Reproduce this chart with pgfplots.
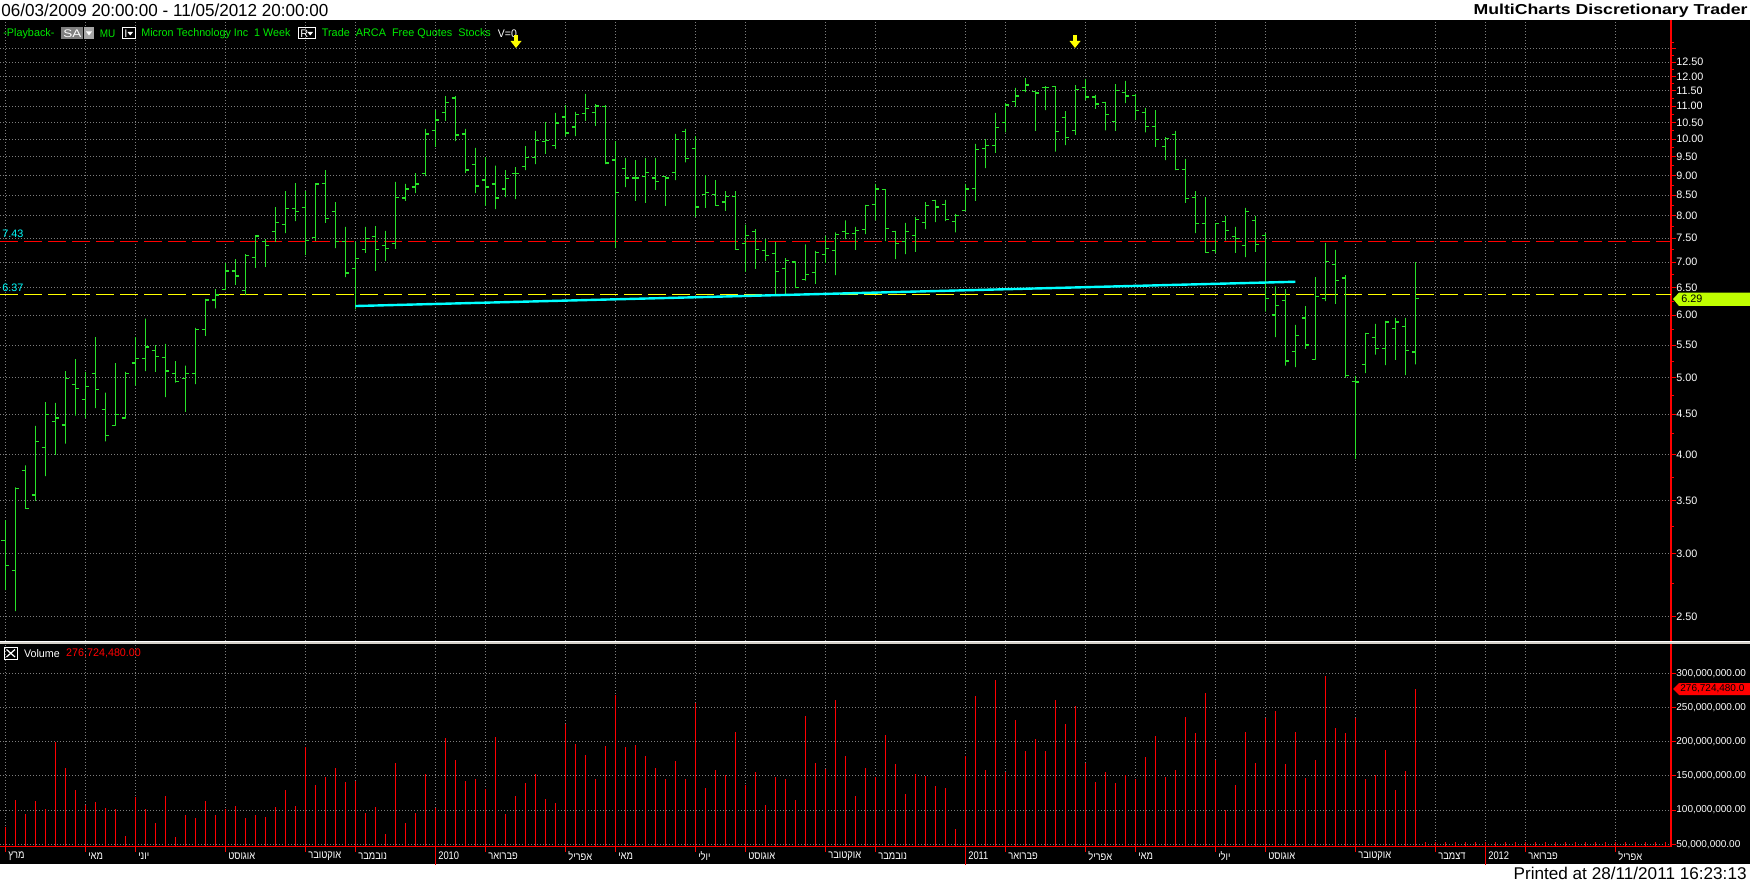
\documentclass[border=0pt]{standalone}
\usepackage{pgfplots}
\pgfplotsset{compat=1.18}
\usepackage{pgfplotstable}
\usepackage{graphicx}
\usepackage{fontspec}
\setmainfont{Liberation Sans}
\newfontfamily\hebfont[Script=Hebrew]{Liberation Sans}
\TeXXeTstate=1
\newcommand\heb[1]{{\hebfont\beginR#1\endR}}
\newdimen\px \px=0.5pt
\newcommand\fit[2]{\resizebox{#1\px}{\height}{#2}}

\definecolor{bargreen}{RGB}{40,225,40}
\definecolor{tbgreen}{RGB}{0,235,0}
\definecolor{gridgray}{RGB}{125,125,125}
\definecolor{vred}{RGB}{255,0,0}
\definecolor{lcyan}{RGB}{0,255,255}
\definecolor{lyellow}{RGB}{255,255,0}
\definecolor{sepgray}{RGB}{212,208,200}

\pgfplotsset{
  ohlc/.style={bargreen, line width=0.6pt, line join=bevel, line cap=butt, no marks},
  dotgrid/.style={gridgray, line width=0.5pt, dash pattern=on 0.5pt off 1pt},
}

% weekly bars: index, open, high, low, close, volume (millions)
\pgfplotstableread{
i o h l c v
0 3.12 3.31 2.70 2.90 75.4
1 2.86 3.64 2.54 3.63 114.8
2 3.82 3.88 3.42 3.42 94.4
3 3.56 4.35 3.50 4.16 113.4
4 4.09 4.66 3.76 4.50 101.7
5 4.41 4.65 4.00 4.45 199.1
6 4.36 5.10 4.13 4.99 161.6
7 4.91 5.28 4.48 4.85 129.4
8 4.70 5.09 4.45 4.88 107.5
9 5.07 5.63 4.58 4.84 111.9
10 4.56 4.79 4.16 4.23 103.1
11 4.35 5.22 4.35 4.50 101.7
12 4.45 5.09 4.45 5.07 62.2
13 5.22 5.63 4.89 5.29 119.2
14 5.29 5.94 5.10 5.47 101.7
15 5.42 5.50 5.09 5.32 81.7
16 5.31 5.52 4.73 5.10 120.7
17 5.07 5.25 4.93 4.95 60.7
18 4.99 5.18 4.53 5.07 92.9
19 5.07 5.78 4.91 5.75 88.5
20 5.76 6.29 5.65 6.27 113.4
21 6.27 6.47 6.12 6.36 92.9
22 6.46 6.98 6.45 6.82 101.7
23 6.82 7.06 6.55 6.72 106.1
24 6.45 7.16 6.36 7.14 88.5
25 7.10 7.57 6.88 7.55 92.9
26 7.43 7.48 6.90 7.35 90.0
27 7.65 8.21 7.42 7.85 104.6
28 7.81 8.60 7.61 8.18 129.4
29 8.18 8.80 7.88 8.10 106.1
30 8.20 8.60 7.14 7.45 192.3
31 7.52 8.80 7.44 8.78 136.8
32 8.80 9.14 7.84 7.95 148.4
33 8.10 8.33 7.29 7.43 161.6
34 7.43 7.75 6.70 6.78 141.1
35 6.87 7.42 6.10 7.07 142.6
36 7.26 7.75 7.19 7.50 95.8
37 7.54 7.77 6.82 7.26 104.6
38 7.35 7.66 7.02 7.28 65.1
39 7.39 8.83 7.27 8.44 168.9
40 8.43 8.78 8.36 8.65 81.2
41 8.70 9.06 8.55 8.78 95.8
42 9.04 10.30 8.98 10.15 152.8
43 10.26 10.88 9.78 10.57 103.1
44 10.81 11.33 10.54 11.11 205.5
45 11.27 11.33 9.94 10.12 173.3
46 10.15 10.30 9.06 9.14 142.6
47 9.28 9.75 8.55 8.73 145.5
48 8.88 9.49 8.24 8.70 130.9
49 8.78 9.26 8.16 8.43 206.9
50 8.65 9.14 8.45 8.91 94.4
51 9.05 9.22 8.40 9.05 120.7
52 9.24 9.80 9.14 9.47 139.7
53 9.49 10.24 9.30 9.97 152.8
54 9.92 10.51 9.58 9.95 116.3
55 9.82 10.79 9.72 10.48 110.4
56 10.66 11.04 10.09 10.18 225.9
57 10.36 10.82 10.09 10.73 196.7
58 10.76 11.40 10.54 10.92 180.6
59 10.81 11.07 10.39 11.01 145.5
60 10.98 11.04 9.30 9.33 193.1
61 9.41 9.94 7.29 8.56 268.1
62 9.19 9.47 8.70 8.93 191.7
63 8.93 9.41 8.36 8.93 194.6
64 8.98 9.47 8.31 9.08 178.4
65 8.93 9.47 8.63 8.85 162.3
66 8.98 8.98 8.24 8.93 146.1
67 9.08 10.15 8.88 9.99 171.1
68 10.22 10.30 9.35 9.45 146.1
69 9.74 10.09 7.98 8.21 256.4
70 8.52 9.01 8.19 8.57 132.8
71 8.52 8.88 8.24 8.25 159.3
72 8.33 8.60 8.12 8.47 151.9
73 8.47 8.60 7.25 7.26 213.7
74 7.39 7.80 6.80 7.56 137.3
75 7.65 7.70 6.86 7.26 156.4
76 7.24 7.48 7.02 7.13 107.8
77 7.18 7.42 6.36 6.81 149.0
78 6.87 7.08 6.38 7.03 146.1
79 7.00 7.00 6.49 6.50 115.2
80 6.65 7.37 6.63 6.75 237.3
81 6.79 7.23 6.57 7.20 169.6
82 7.16 7.55 6.98 7.28 160.8
83 7.24 7.63 6.74 7.58 260.8
84 7.65 7.90 7.48 7.60 178.4
85 7.60 7.75 7.25 7.67 121.1
86 7.70 8.26 7.59 8.25 162.3
87 8.28 8.78 7.90 8.65 149.0
88 8.63 8.65 7.44 7.72 209.3
89 7.65 7.66 7.06 7.39 166.7
90 7.43 7.84 7.16 7.65 124.0
91 7.56 7.98 7.21 7.92 153.4
92 7.85 8.33 7.70 8.25 150.5
93 8.37 8.38 7.86 8.21 135.8
94 8.28 8.38 7.88 7.92 132.8
95 7.88 8.05 7.63 8.02 72.5
96 8.13 8.78 8.12 8.65 178.4
97 8.67 9.86 8.36 9.70 266.7
98 9.74 10.00 9.19 9.82 159.3
99 9.82 10.79 9.61 10.35 290.2
100 10.49 11.10 10.20 11.04 156.4
101 11.16 11.60 10.98 11.33 231.4
102 11.52 11.94 11.46 11.70 185.8
103 11.47 11.47 10.24 11.43 203.4
104 11.62 11.66 10.88 11.62 185.8
105 11.66 11.66 9.64 10.23 260.8
106 10.65 10.85 9.83 10.05 225.5
107 10.25 11.70 10.12 11.56 252.0
108 11.62 11.91 11.20 11.30 169.6
109 11.30 11.37 10.92 11.07 141.7
110 11.11 11.14 10.26 10.75 156.4
111 10.52 11.73 10.24 11.52 139.7
112 11.46 11.84 11.10 11.33 151.9
113 11.36 11.40 10.57 10.87 146.1
114 10.81 10.95 10.20 10.38 177.0
115 10.38 10.88 9.78 9.99 207.8
116 9.79 10.06 9.41 10.02 149.0
117 10.14 10.24 9.14 9.16 159.3
118 9.16 9.44 8.31 8.42 235.8
119 8.44 8.60 7.61 7.83 212.3
120 7.83 8.45 7.19 7.20 271.1
121 7.24 7.83 7.19 7.83 172.6
122 7.88 8.00 7.45 7.67 100.5
123 7.54 7.75 7.19 7.50 137.3
124 7.35 8.19 7.10 8.10 213.7
125 7.90 8.00 7.21 7.37 169.6
126 7.56 7.61 6.06 6.30 234.3
127 6.00 6.52 5.63 6.17 244.6
128 6.26 6.47 5.18 5.25 168.1
129 5.40 5.83 5.16 5.66 213.7
130 5.95 6.16 5.44 5.50 147.5
131 5.28 6.70 5.28 6.34 174.0
132 6.30 7.40 6.25 7.01 296.1
133 6.95 7.25 6.20 6.64 219.6
134 6.68 6.74 5.00 5.04 212.3
135 4.95 5.03 3.95 4.94 234.3
136 5.20 5.70 5.07 5.69 146.1
137 5.62 5.85 5.35 5.45 151.9
138 5.45 5.90 5.19 5.88 187.3
139 5.77 5.95 5.27 5.88 129.9
140 5.81 5.95 5.04 5.42 157.8
141 5.39 7.00 5.20 6.29 277.0
}\bars

\begin{document}
\begin{tikzpicture}[x=0.5pt,y=0.5pt]
\useasboundingbox (0,0) rectangle (1750,884);
\fill[white] (0,0) rectangle (1750,884);
\fill[black] (0,20) rectangle (1750,863.5);

% ---------- price panel ----------
\begin{axis}[
  at={(0pt,121.5pt)}, anchor=south west,
  scale only axis, width=835.5pt, height=310.5pt,
  xmin=-0.53, xmax=166.57,
  ymode=log, ymin=2.3297, ymax=14.131,
  axis x line=bottom, axis y line=right,
  x axis line style={draw=none},
  y axis line style={vred, line width=0.6pt, -},
  xtick={0,8,13,22,30,35,43,48,56,61,69,74,82,87,96,100,108,113,121,126,135,143,148,152,161},
  xticklabels={}, xtick style={draw=none},
  xmajorgrids, ymajorgrids,
  major grid style={dotgrid},
  ytick={2.5,3,3.5,4,4.5,5,5.5,6,6.5,7,7.5,8,8.5,9,9.5,10,10.5,11,11.5,12,12.5,13},
  yticklabels={2.50,3.00,3.50,4.00,4.50,5.00,5.50,6.00,6.50,7.00,7.50,8.00,8.50,9.00,9.50,10.00,10.50,11.00,11.50,12.00,12.50,{}},
  minor ytick={2.75,3.25,3.75,4.25,4.75,5.25,5.75,6.25,6.75,7.25,7.75,8.25,8.75,9.25,9.75,10.25,10.75,11.25,11.75,12.25,12.75,13.25},
  tick align=outside, major tick length=2.5pt, minor tick length=1.5pt,
  ytick style={vred, line width=0.5pt},
  yticklabel style={text=white, font=\fontsize{5.4}{6}\selectfont, inner sep=0pt, anchor=west},
]
\addplot[vred, line width=0.6pt, dash pattern=on 9pt off 3pt] coordinates {(-0.53,7.43) (166.57,7.43)};
\addplot[lyellow, line width=0.6pt, dash pattern=on 9pt off 3pt] coordinates {(-0.53,6.37) (166.57,6.37)};
\pgfplotsinvokeforeach{0,...,141}{
  \pgfplotstablegetelem{#1}{o}\of\bars \let\vo\pgfplotsretval
  \pgfplotstablegetelem{#1}{h}\of\bars \let\vh\pgfplotsretval
  \pgfplotstablegetelem{#1}{l}\of\bars \let\vl\pgfplotsretval
  \pgfplotstablegetelem{#1}{c}\of\bars \let\vc\pgfplotsretval
  \pgfmathsetmacro\xa{#1-0.38}
  \pgfmathsetmacro\xb{#1+0.38}
  \edef\temp{\noexpand\addplot[ohlc] coordinates {(\xa,\vo) (#1,\vo) (#1,\vl) (#1,\vh) (#1,\vc) (\xb,\vc)};}
  \temp
}
\addplot[lcyan, line width=1.2pt] coordinates {(35,6.16) (129,6.61)};
\node[anchor=west, inner sep=0pt, text=lcyan, font=\fontsize{5.4}{6}\selectfont] at (axis cs:-0.33,7.43) [yshift=3.6pt] {7.43};
\node[anchor=west, inner sep=0pt, text=lcyan, font=\fontsize{5.4}{6}\selectfont] at (axis cs:-0.33,6.37) [yshift=3.4pt] {6.37};
\end{axis}

% separator between panels
\fill[sepgray] (0,240.5) rectangle (1750,243.5);
\fill[white] (0,242.3) rectangle (1750,243.5);

% ---------- volume panel ----------
\begin{axis}[
  at={(0pt,18.75pt)}, anchor=south west,
  scale only axis, width=835.5pt, height=101.5pt,
  xmin=-0.53, xmax=166.57, ymin=46.8, ymax=343.6,
  axis x line=bottom, axis y line=right,
  x axis line style={vred, line width=0.9pt, -},
  y axis line style={vred, line width=0.6pt, -},
  xtick={0,8,13,22,30,35,43,48,56,61,69,74,82,87,96,100,108,113,121,126,135,143,148,152,161},
  xticklabels={},
  xmajorgrids, ymajorgrids,
  major grid style={dotgrid},
  ytick={50,100,150,200,250,300},
  yticklabels={{50,000,000.00},{100,000,000.00},{150,000,000.00},{200,000,000.00},{250,000,000.00},{300,000,000.00}},
  tick align=outside, major tick length=2.5pt,
  tick style={vred, line width=0.5pt},
  yticklabel style={text=white, font=\fontsize{5}{6}\selectfont, inner sep=0pt, anchor=west},
  after end axis/.code={
    \foreach \k in {0,...,166} {\draw[vred, line width=0.4pt] (axis cs:\k,46.8) -- ++(0,2.5pt);}
    \foreach \k in {43,96,148} {\draw[vred, line width=0.5pt] (axis cs:\k,46.8) -- ++(0,-9pt);}
    \foreach \p/\t in {0/{\heb{מרץ}},8/{\heb{מאי}},13/{\heb{יוני}},22/{\heb{אוגוסט}},30/{\heb{אוקטובר}},35/{\heb{נובמבר}},43/2010,48/{\heb{פברואר}},56/{\heb{אפריל}},61/{\heb{מאי}},69/{\heb{יולי}},74/{\heb{אוגוסט}},82/{\heb{אוקטובר}},87/{\heb{נובמבר}},96/2011,100/{\heb{פברואר}},108/{\heb{אפריל}},113/{\heb{מאי}},121/{\heb{יולי}},126/{\heb{אוגוסט}},135/{\heb{אוקטובר}},143/{\heb{דצמבר}},148/2012,152/{\heb{פברואר}},161/{\heb{אפריל}}}
      {\node[anchor=west, inner sep=0pt, text=white, font=\fontsize{5.5}{6}\selectfont] at (axis cs:\p,46.8) [xshift=1.3pt, yshift=-4.8pt] {\scalebox{0.85}[1]{\t}};}
  },
]
\addplot[ycomb, vred, line width=0.6pt, no marks] table[x=i, y=v]{\bars};
\end{axis}

% ---------- title bar and footer ----------
\node[anchor=west, inner sep=0pt] at (1,873.5) {\fontsize{8.7}{10}\selectfont\fit{327}{06/03/2009 20:00:00 - 11/05/2012 20:00:00}};
\node[anchor=east, inner sep=0pt] at (1748,873) {\fontsize{7.2}{9}\selectfont\bfseries\fit{274}{MultiCharts Discretionary Trader}};
\node[anchor=east, inner sep=0pt] at (1747,11) {\fontsize{8.5}{10}\selectfont\fit{233}{Printed at 28/11/2011 16:23:13}};

% ---------- toolbar ----------
\tikzset{tb/.style={anchor=west, inner sep=0pt, font=\fontsize{5.5}{6}\selectfont}}
\node[tb, text=tbgreen] at (3,850.7) {\fit{51}{-Playback-}};
\fill[gray] (61,856.5) rectangle (83,845);
\fill[gray!70] (83.5,856.5) rectangle (94,845);
\node[tb, text=white] at (63,850.7) {\fit{18}{SA}};
\fill[white] (86,852.5) -- (92,852.5) -- (89,848.5) -- cycle;
\node[tb, text=tbgreen] at (99.5,850.7) {\fit{15.5}{MU}};
\draw[white, line width=0.5pt] (122,856.5) rectangle (135,845);
\node[tb, text=white] at (124,850.7) {I};
\fill[white] (127.5,852) -- (133,852) -- (130.25,848.5) -- cycle;
\node[tb, text=tbgreen] at (141,850.7) {\fit{149}{Micron Technology Inc\ \ 1 Week}};
\draw[white, line width=0.5pt] (298,856.5) rectangle (315,845);
\node[tb, text=white] at (300,850.7) {R};
\fill[white] (307.5,852) -- (313,852) -- (310.25,848.5) -- cycle;
\node[tb, text=tbgreen] at (321.5,850.7) {\fit{169}{Trade\ \ ARCA\ \ Free Quotes\ \ Stocks}};
\node[tb, text=white] at (497.5,850.7) {\fit{19}{V=0}};

% alert arrows
\foreach \ax in {516,1075} {
  \fill[lyellow] (\ax-2,849) rectangle (\ax+2,843);
  \fill[lyellow] (\ax-5.5,843) -- (\ax+5.5,843) -- (\ax,836) -- cycle;
}

% last-value markers on the right scale
\fill[lime] (1673,585) -- (1679,591.4) -- (1750,591.4) -- (1750,578) -- (1679,578) -- cycle;
\node[anchor=west, inner sep=0pt, font=\fontsize{5.4}{6}\selectfont] at (1681,585) {6.29};
\fill[vred] (1673,195) -- (1679,201) -- (1750,201) -- (1750,189) -- (1679,189) -- cycle;
\node[anchor=west, inner sep=0pt, font=\fontsize{5}{6}\selectfont] at (1680,195) {276,724,480.0};

% volume legend
\draw[white, line width=0.5pt] (4,237) rectangle (17.5,224.5);
\draw[white, line width=0.6pt] (6.5,234.5) -- (15,227) (6.5,227) -- (15,234.5);
\node[anchor=west, inner sep=0pt, text=white, font=\fontsize{5.5}{6}\selectfont] at (23.7,230.7) {\fit{35.6}{Volume}};
\node[anchor=west, inner sep=0pt, text=vred, font=\fontsize{5.5}{6}\selectfont] at (65.8,230.7) {\fit{74.7}{276,724,480.00}};
\end{tikzpicture}
\end{document}
